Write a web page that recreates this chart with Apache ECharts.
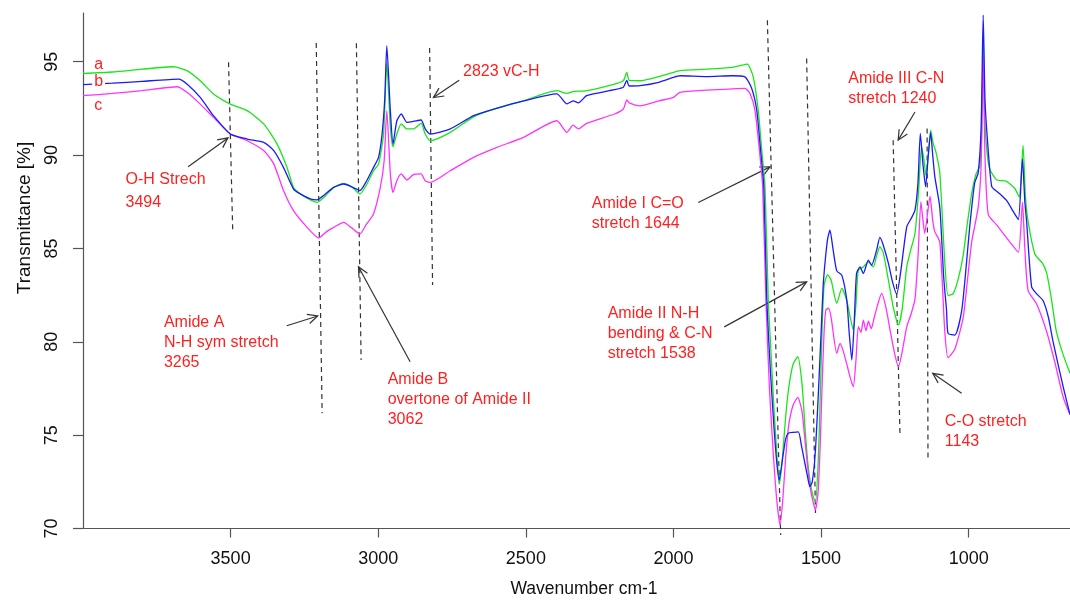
<!DOCTYPE html>
<html>
<head>
<meta charset="utf-8">
<title>FTIR spectra</title>
<script src="https://cdn.jsdelivr.net/npm/echarts@6/dist/echarts.min.js"></script>
<style>
  html, body { margin: 0; padding: 0; background: #fff; }
  #chart { width: 1070px; height: 600px; }
</style>
</head>
<body>
<div id="chart"></div>
<script>
// spectra: [wavenumber cm-1, transmittance %]
const spectrumA = [
  [4000, 94.37], [3900, 94.45], [3800, 94.6], [3693, 94.73], [3648, 94.52], [3603, 93.98], [3558, 93.27],
  [3501, 92.73], [3444, 92.38], [3388, 91.67], [3343, 90.6], [3309, 89.34], [3287, 88.27], [3264, 87.92],
  [3230, 87.6], [3208, 87.47], [3180, 87.8], [3151, 88.27], [3117, 88.49], [3090, 88.3], [3062, 87.92],
  [3040, 88.4], [3016, 89.16], [2999, 89.52], [2982, 91.13], [2971, 94.96], [2959, 91.48], [2950, 90.45],
  [2937, 91.13], [2922, 91.67], [2903, 91.4], [2881, 91.4], [2855, 91.7], [2841, 91.13], [2824, 90.77],
  [2756, 91.22], [2677, 92.05], [2600, 92.5], [2508, 92.91], [2395, 93.45], [2361, 93.3], [2340, 93.4],
  [2294, 93.45], [2200, 93.8], [2170, 93.98], [2158, 94.43], [2150, 94.0], [2113, 93.98], [2050, 94.2],
  [2000, 94.43], [1978, 94.52], [1887, 94.6], [1800, 94.7], [1775, 94.79], [1750, 94.87], [1730, 94.19],
  [1713, 92.4], [1701, 90.26], [1690, 88.3], [1679, 82.23], [1670, 79.5], [1660, 76.5], [1650, 74.0],
  [1641, 72.4], [1632, 73.6], [1620, 76.0], [1610, 77.5], [1595, 78.8], [1579, 79.2], [1565, 77.8],
  [1555, 75.5], [1545, 73.5], [1535, 72.3], [1525, 71.6], [1519, 71.43], [1510, 73.5], [1503, 77.0],
  [1497, 80.5], [1490, 83.0], [1478, 83.6], [1466, 83.3], [1447, 82.06], [1430, 82.86], [1413, 82.2],
  [1400, 81.2], [1391, 80.63], [1382, 82.0], [1374, 83.83], [1357, 84.01], [1340, 84.28], [1323, 84.01],
  [1312, 84.6], [1301, 85.09], [1290, 84.8], [1272, 83.3], [1255, 81.8], [1238, 80.9], [1225, 81.8],
  [1210, 84.01], [1195, 85.0], [1182, 85.8], [1170, 88.0], [1160, 90.44], [1152, 89.8], [1145, 88.9],
  [1137, 90.0], [1129, 91.33], [1120, 90.6], [1111, 90.16], [1098, 89.05], [1081, 84.24], [1070, 82.48],
  [1053, 82.57], [1035, 83.4], [1019, 84.61], [1005, 86.3], [990, 87.94], [975, 89.0], [962, 89.42],
  [955, 92.0], [951, 96.5], [946, 92.0], [937, 90.0], [928, 89.23], [906, 88.68], [872, 88.59],
  [844, 88.21], [829, 87.75], [816, 90.52], [808, 87.8], [799, 86.46], [776, 84.7], [750, 84.2],
  [736, 83.68], [720, 82.3], [703, 80.54], [680, 79.3], [657, 78.32]
]
const spectrumB = [
  [4000, 93.77], [3900, 93.85], [3800, 93.95], [3676, 94.07], [3648, 93.81], [3603, 93.09], [3558, 92.11],
  [3501, 91.13], [3444, 90.86], [3388, 90.68], [3354, 90.24], [3321, 89.34], [3287, 88.18], [3264, 87.92],
  [3230, 87.65], [3208, 87.6], [3180, 87.9], [3151, 88.27], [3117, 88.45], [3090, 88.3], [3062, 88.1],
  [3040, 88.6], [3016, 89.34], [2999, 89.88], [2987, 91.13], [2978, 93.0], [2971, 95.86], [2959, 92.38],
  [2950, 90.6], [2937, 91.84], [2922, 92.2], [2903, 91.75], [2881, 91.8], [2855, 91.88], [2841, 91.4],
  [2824, 91.13], [2756, 91.4], [2677, 92.11], [2600, 92.5], [2508, 92.9], [2395, 93.28], [2361, 92.74],
  [2340, 92.9], [2322, 92.8], [2294, 93.18], [2200, 93.5], [2170, 93.63], [2158, 94.0], [2150, 93.7],
  [2113, 93.72], [2050, 93.9], [2000, 94.16], [1978, 94.25], [1887, 94.2], [1800, 94.25], [1758, 94.19],
  [1735, 93.57], [1718, 92.4], [1705, 90.26], [1694, 88.3], [1684, 82.23], [1672, 78.5], [1660, 75.5],
  [1650, 73.5], [1642, 72.6], [1630, 73.8], [1620, 74.8], [1611, 75.1], [1595, 75.15], [1577, 75.18],
  [1566, 74.38], [1555, 73.5], [1545, 72.7], [1538, 72.24], [1530, 72.5], [1520, 74.0], [1510, 77.0],
  [1500, 80.5], [1493, 83.0], [1486, 84.37], [1478, 85.5], [1470, 85.98], [1460, 85.0], [1447, 83.8],
  [1430, 83.57], [1413, 82.23], [1405, 80.5], [1396, 79.02], [1388, 81.0], [1380, 83.66], [1368, 84.01],
  [1357, 83.66], [1340, 84.37], [1329, 84.1], [1312, 84.91], [1301, 85.59], [1290, 85.2], [1272, 84.2],
  [1258, 83.2], [1244, 82.55], [1230, 83.8], [1210, 86.16], [1195, 86.6], [1182, 87.05], [1172, 88.5],
  [1164, 91.16], [1155, 89.5], [1146, 88.3], [1138, 89.8], [1129, 91.2], [1122, 90.0], [1115, 88.86],
  [1098, 87.2], [1085, 83.5], [1075, 81.65], [1070, 80.45], [1047, 80.36], [1024, 81.65], [1010, 83.8],
  [996, 86.27], [980, 88.5], [968, 89.05], [958, 91.5], [951, 97.5], [945, 93.0], [937, 90.9],
  [922, 88.31], [900, 88.0], [872, 87.57], [850, 87.0], [832, 86.55], [818, 89.79], [810, 87.5],
  [804, 86.46], [787, 82.94], [770, 82.57], [748, 82.2], [730, 81.3], [714, 79.98], [680, 77.58], [657, 76.1]
]
const spectrumC = [
  [4000, 93.18], [3900, 93.3], [3800, 93.45], [3681, 93.66], [3648, 93.36], [3603, 92.73], [3558, 92.02],
  [3501, 91.13], [3444, 90.77], [3388, 90.24], [3354, 89.53], [3321, 88.1], [3287, 87.02], [3241, 86.13],
  [3202, 85.56], [3175, 85.9], [3151, 86.13], [3117, 86.4], [3090, 86.1], [3062, 85.78], [3040, 86.3],
  [3016, 86.85], [2993, 88.27], [2980, 89.7], [2971, 92.38], [2959, 88.99], [2950, 88.0], [2937, 88.63],
  [2922, 88.99], [2903, 88.67], [2881, 88.95], [2855, 88.99], [2841, 88.63], [2824, 88.54], [2756, 89.16],
  [2677, 89.88], [2600, 90.4], [2508, 90.95], [2395, 91.84], [2361, 91.22], [2340, 91.6], [2322, 91.4],
  [2294, 91.7], [2200, 92.2], [2170, 92.47], [2158, 92.95], [2150, 92.8], [2113, 92.64], [2050, 92.9],
  [2000, 93.09], [1978, 93.36], [1887, 93.48], [1800, 93.55], [1758, 93.57], [1741, 93.3], [1724, 92.4],
  [1709, 90.26], [1698, 88.3], [1687, 82.23], [1675, 77.5], [1662, 74.0], [1650, 71.5], [1639, 70.19],
  [1630, 71.5], [1620, 73.8], [1610, 75.5], [1595, 76.6], [1579, 77.02], [1565, 76.3], [1555, 74.8],
  [1545, 73.2], [1535, 72.0], [1525, 71.3], [1519, 71.0], [1510, 72.0], [1503, 74.5], [1497, 77.5],
  [1490, 80.5], [1484, 81.7], [1475, 81.8], [1466, 81.3], [1447, 79.38], [1436, 79.91], [1425, 79.5],
  [1413, 78.8], [1400, 78.0], [1391, 77.59], [1382, 79.0], [1374, 80.81], [1365, 80.5], [1357, 81.16],
  [1348, 80.6], [1340, 81.1], [1330, 80.7], [1320, 81.3], [1310, 81.9], [1295, 82.59], [1280, 81.8],
  [1265, 80.5], [1250, 79.3], [1238, 78.66], [1225, 79.5], [1210, 80.8], [1195, 81.5], [1182, 82.3],
  [1172, 84.5], [1162, 87.5], [1155, 86.5], [1149, 85.8], [1140, 86.8], [1131, 87.8], [1122, 86.5],
  [1115, 85.9], [1098, 85.35], [1081, 80.54], [1070, 79.15], [1047, 79.61], [1019, 81.28], [1005, 83.2],
  [990, 85.35], [968, 87.2], [958, 89.5], [951, 95.33], [945, 90.0], [934, 86.83], [906, 86.27],
  [861, 85.35], [832, 84.79], [818, 87.47], [810, 85.0], [799, 82.76], [770, 82.02], [736, 80.54],
  [708, 78.88], [680, 77.03], [657, 76.1]
]

const xTicks = [3500, 3000, 2500, 2000, 1500, 1000]
const yTicks = [70, 75, 80, 85, 90, 95]

// band annotations, in data coordinates
const noteText = [
  ['O-H Strech', '3494'],
  ['Amide A', 'N-H sym stretch', '3265'],
  ['Amide B', 'overtone of Amide II', '3062'],
  ['2823 vC-H'],
  ['Amide I C=O', 'stretch 1644'],
  ['Amide II N-H', 'bending & C-N', 'stretch 1538'],
  ['Amide III C-N', 'stretch 1240'],
  ['C-O stretch', '1143']
]
const notePos = [[3856, 88.69], [3726, 81.02], [2968, 77.95], [2713, 94.49],
  [2277, 87.41], [2223, 81.52], [1408, 94.1], [1081, 75.71]]
// arrow: tail wavenumber, tail %T, head wavenumber, head %T
const noteArrows = [
  [3644, 89.37, 3509, 90.92], [3310, 80.86, 3205, 81.38], [2892, 78.93, 3067, 84.02],
  [2726, 94.01, 2813, 93.08], [1916, 87.46, 1673, 89.37], [1828, 80.8, 1549, 83.21],
  [1182, 92.31, 1239, 90.8], [1024, 77.24, 1122, 78.31]
]
// dashed marker lines: top then bottom
const bandLines = [
  [3507, 94.97, 3493, 85.98], [3210, 96.0, 3190, 76.17], [3074, 95.99, 3058, 79.02],
  [2826, 95.74, 2816, 83.04], [1682, 97.22, 1637, 69.65], [1549, 95.17, 1519, 70.83],
  [1256, 90.8, 1233, 75.1], [1141, 91.42, 1138, 73.76]
]
const sampleTags = [['a', 3969, 94.87], ['b', 3969, 93.92], ['c', 3969, 92.67]]

const font = 'Liberation Sans, Arial, sans-serif'
const red = '#ff1f1f'

const chart = echarts.init(document.getElementById('chart'))

function lineSeries(name, data, color) {
  return {
    name: name,
    type: 'line',
    data: data,
    showSymbol: false,
    smooth: 0.2,
    silent: true,
    lineStyle: { color: color, width: 1.3 }
  }
}

chart.setOption({
  animation: false,
  grid: { left: 83, right: 0, top: 13, bottom: 71.5 },
  xAxis: {
    type: 'value',
    inverse: true,
    min: 657,
    max: 4000,
    axisLine: { lineStyle: { color: '#555', width: 1.2 } },
    axisTick: { customValues: xTicks, length: 9, lineStyle: { color: '#555', width: 1.2 } },
    axisLabel: {
      customValues: xTicks, color: '#111', fontSize: 18, fontFamily: font, margin: 22,
      formatter: v => String(v)
    },
    splitLine: { show: false }
  },
  yAxis: {
    type: 'value',
    min: 70,
    max: 97.61,
    axisLine: { show: true, lineStyle: { color: '#555', width: 1.2 } },
    axisTick: { show: true, customValues: yTicks, length: 10, lineStyle: { color: '#555', width: 1.2 } },
    axisLabel: {
      customValues: yTicks, rotate: 90, color: '#111', fontSize: 18, fontFamily: font, margin: 22,
      formatter: v => String(v)
    },
    splitLine: { show: false }
  },
  graphic: [
    {
      type: 'text', x: 584, y: 589,
      style: { text: 'Wavenumber cm-1', fill: '#111', fontSize: 17.5, fontFamily: font, align: 'center', verticalAlign: 'middle' }
    },
    {
      type: 'text', x: 25, y: 218, rotation: Math.PI / 2,
      style: { text: 'Transmittance [%]', fill: '#111', fontSize: 19, fontFamily: font, align: 'center', verticalAlign: 'middle' }
    }
  ],
  series: [
    lineSeries('a', spectrumA, '#19e619'),
    lineSeries('c', spectrumC, '#ff33ff'),
    lineSeries('b', spectrumB, '#1a1aff'),
    {
      // dashed band markers
      type: 'custom',
      silent: true,
      clip: false,
      data: bandLines,
      renderItem: function (params, api) {
        const p1 = api.coord([api.value(0), api.value(1)])
        const p2 = api.coord([api.value(2), api.value(3)])
        return {
          type: 'line',
          shape: { x1: p1[0], y1: p1[1], x2: p2[0], y2: p2[1] },
          style: { stroke: '#333', lineWidth: 1.2, lineDash: [5, 4] }
        }
      }
    },
    {
      // open arrows pointing at the bands
      type: 'custom',
      silent: true,
      clip: false,
      data: noteArrows,
      renderItem: function (params, api) {
        const p1 = api.coord([api.value(0), api.value(1)])
        const p2 = api.coord([api.value(2), api.value(3)])
        const ang = Math.atan2(p2[1] - p1[1], p2[0] - p1[0])
        const len = 11
        const spread = Math.PI / 7
        const h1 = [p2[0] - len * Math.cos(ang - spread), p2[1] - len * Math.sin(ang - spread)]
        const h2 = [p2[0] - len * Math.cos(ang + spread), p2[1] - len * Math.sin(ang + spread)]
        return {
          type: 'group',
          children: [
            { type: 'line', shape: { x1: p1[0], y1: p1[1], x2: p2[0], y2: p2[1] }, style: { stroke: '#333', lineWidth: 1.2 } },
            { type: 'polyline', shape: { points: [h1, p2, h2] }, style: { stroke: '#333', lineWidth: 1.2, fill: null } }
          ]
        }
      }
    },
    {
      // red annotation texts
      type: 'custom',
      silent: true,
      clip: false,
      data: notePos,
      renderItem: function (params, api) {
        const p = api.coord([api.value(0), api.value(1)])
        const lh = params.dataIndex === 0 ? 23 : 20
        return {
          type: 'text',
          x: p[0],
          y: p[1] - lh / 2,
          style: {
            text: noteText[params.dataIndex].join('\n'),
            fill: red, fontSize: 16, fontFamily: font, lineHeight: lh,
            align: 'left', verticalAlign: 'top'
          }
        }
      }
    },
    {
      // sample tags a, b, c (b sits on its own curve, so it gets a white box)
      type: 'custom',
      silent: true,
      clip: false,
      z: 5,
      data: sampleTags.map(t => [t[1], t[2]]),
      renderItem: function (params, api) {
        const p = api.coord([api.value(0), api.value(1)])
        return {
          type: 'text',
          x: p[0],
          y: p[1],
          style: {
            text: sampleTags[params.dataIndex][0],
            fill: red, fontSize: 16, fontFamily: font,
            align: 'left', verticalAlign: 'middle',
            backgroundColor: params.dataIndex === 1 ? '#fff' : null,
            padding: [0, 2]
          }
        }
      }
    }
  ]
})
</script>
</body>
</html>
